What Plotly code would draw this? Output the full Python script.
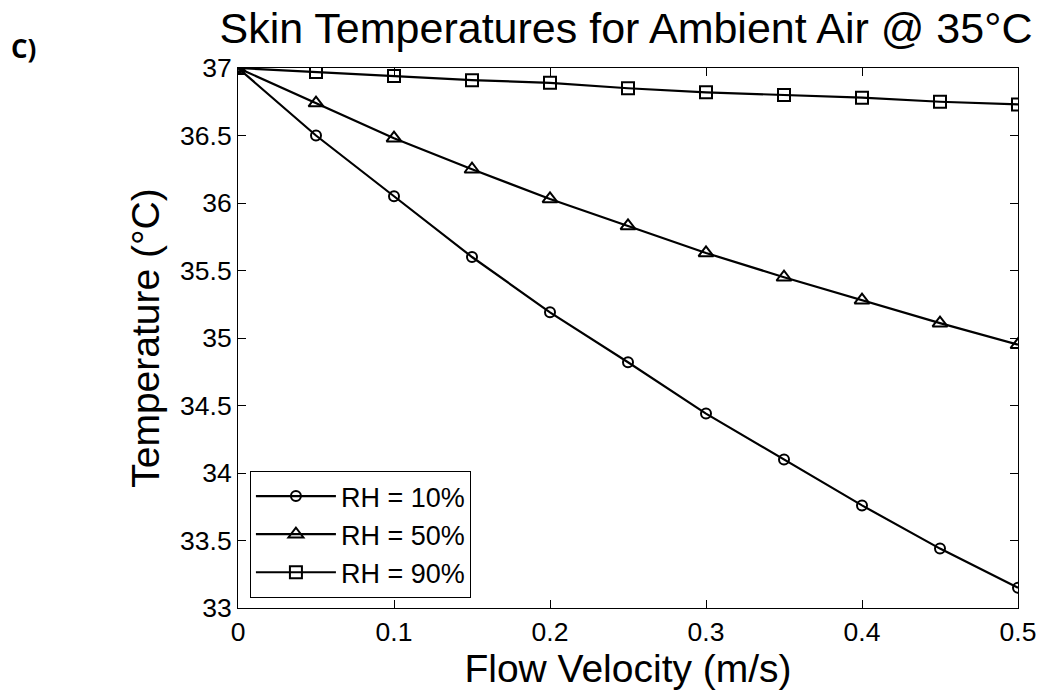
import plotly.graph_objects as go

velocity = [0, 0.05, 0.1, 0.15, 0.2, 0.25, 0.3, 0.35, 0.4, 0.45, 0.5]
rh10 = [37.0, 36.50, 36.05, 35.60, 35.19, 34.82, 34.44, 34.10, 33.76, 33.44, 33.15]
rh50 = [37.0, 36.74, 36.48, 36.25, 36.03, 35.83, 35.63, 35.45, 35.28, 35.11, 34.95]
rh90 = [37.0, 36.97, 36.94, 36.91, 36.89, 36.85, 36.82, 36.80, 36.78, 36.75, 36.73]
series_names = ["RH = 10%", "RH = 50%", "RH = 90%"]
x_ticks = [0, 0.1, 0.2, 0.3, 0.4, 0.5]
x_ticklabels = ["0", "0.1", "0.2", "0.3", "0.4", "0.5"]
y_ticks = [33, 33.5, 34, 34.5, 35, 35.5, 36, 36.5, 37]
y_ticklabels = ["33", "33.5", "34", "34.5", "35", "35.5", "36", "36.5", "37"]

SANS = "Liberation Sans, Arial, sans-serif"

fig = go.Figure()
styles = [("circle-open", 10), ("triangle-up-open", 13), ("square-open", 12)]
for name, ys, (sym, sz) in zip(series_names, [rh10, rh50, rh90], styles):
    fig.add_trace(go.Scatter(
        x=velocity, y=ys, name=name, mode="lines+markers",
        line=dict(color="black", width=2.2),
        marker=dict(symbol=sym, size=sz, color="black", line=dict(color="black", width=2)),
    ))

W, H = 1048, 691
L, R, T, B = 238, 25, 68, 83
PW, PH = W - L - R, H - T - B

fig.update_layout(
    width=W, height=H,
    margin=dict(l=L, r=R, t=T, b=B),
    paper_bgcolor="white", plot_bgcolor="white",
    title=dict(text="Skin Temperatures for Ambient Air @ 35°C", x=626 / W, xref="container",
               xanchor="center", y=1 - 28 / H, yref="container", yanchor="middle",
               font=dict(family=SANS, size=43, color="black")),
    legend=dict(x=(250 - L) / PW, y=(H - B - 598) / PH, xanchor="left", yanchor="bottom",
                bordercolor="black", borderwidth=1, bgcolor="white",
                font=dict(family=SANS, size=27, color="black"),
                itemwidth=80, tracegroupgap=0),
    showlegend=True,
    annotations=[dict(text="<b>C)</b>", x=(22 - L) / PW, y=(H - B - 48) / PH,
                      xref="paper", yref="paper", xanchor="center", yanchor="middle",
                      showarrow=False, font=dict(family="Open Sans, sans-serif", size=26, color="black"))],
)

fig.update_xaxes(range=[0, 0.5], tickvals=x_ticks, ticktext=x_ticklabels,
                 ticks="inside", ticklen=8, tickcolor="black", showline=True, linecolor="black",
                 linewidth=1, mirror="ticks", showgrid=False, zeroline=False,
                 tickfont=dict(family=SANS, size=26.5, color="black"),
                 title=dict(text="Flow Velocity (m/s)", font=dict(family=SANS, size=39, color="black"), standoff=2))
fig.update_yaxes(range=[33, 37], tickvals=y_ticks, ticktext=y_ticklabels,
                 ticks="inside", ticklen=8, tickcolor="black", showline=True, linecolor="black",
                 linewidth=1, mirror="ticks", showgrid=False, zeroline=False,
                 tickfont=dict(family=SANS, size=26.5, color="black"),
                 title=dict(text="Temperature (°C)", font=dict(family=SANS, size=39, color="black"), standoff=8))

fig.write_html("out.html")
